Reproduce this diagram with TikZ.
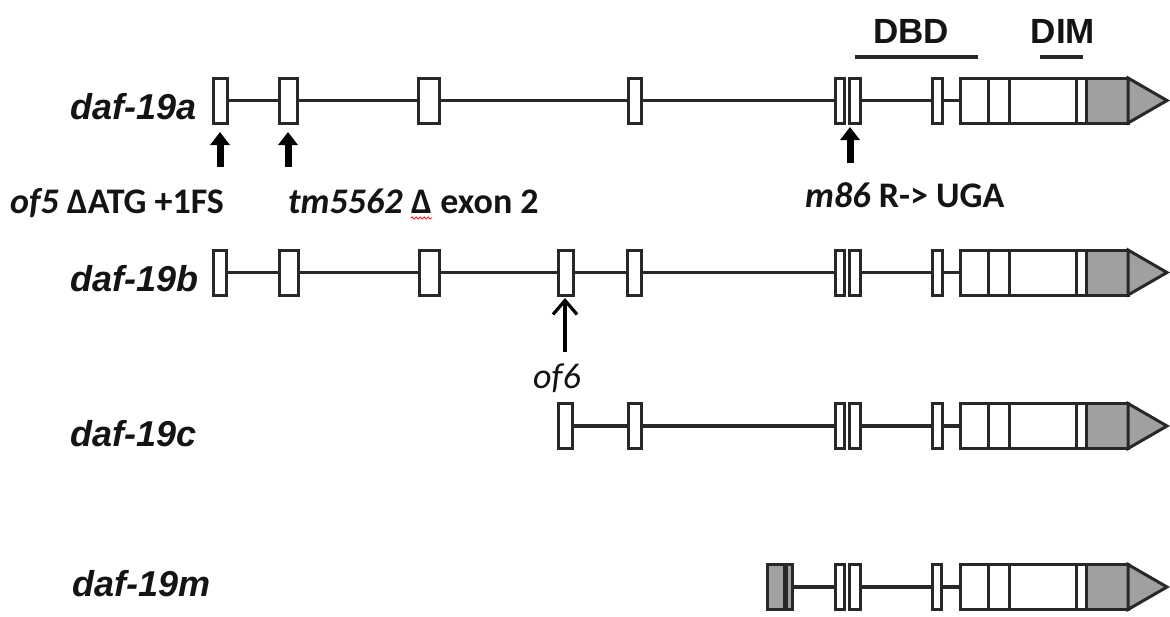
\documentclass[tikz,border=0pt]{standalone}
\usepackage{fontspec}
\usetikzlibrary{arrows.meta,decorations.pathmorphing}
\newfontfamily\arialf{Liberation Sans}
\newfontfamily\calib{Carlito}
\definecolor{linec}{RGB}{40,40,40}
\definecolor{utrgray}{RGB}{160,160,160}
\definecolor{inkc}{RGB}{20,20,20}

% exon box: [style]{name}{left x}{right x}{row y}
\newcommand{\ex}[5][exon]{%
  \pgfmathsetmacro{\exw}{#4-#3}\pgfmathsetmacro{\exc}{(#3+#4)/2}%
  \node[#1, minimum width=\exw pt] (#2) at (\exc,#5) {};}
% last coding block with the 3' UTR and the arrow tip: {prefix}{row y}
\newcommand{\cdsblock}[2]{%
  \ex{#1p1}{960}{988}{#2}
  \ex{#1p2}{988}{1009}{#2}
  \ex{#1p3}{1009}{1076}{#2}
  \ex{#1p4}{1076}{1086}{#2}
  \ex[utr]{#1p5}{1086}{1128}{#2}
  \filldraw[tipshape] (#1p5.north east) -- ++(39,22.5) -- (#1p5.south east) -- cycle;}

\begin{document}
\begin{tikzpicture}[x=1pt,y=-1pt,
  exon/.style={rectangle, draw=linec, line width=3pt, fill=white,
    inner sep=0pt, outer sep=0pt, minimum height=45pt},
  utr/.style={exon, fill=utrgray},
  tipshape/.style={draw=linec, fill=utrgray, line width=3pt, line join=miter},
  intron/.style={draw=linec, line width=3.2pt},
  genelab/.style={anchor=base west, inner sep=0pt, text=inkc,
    font=\arialf\bfseries\itshape\fontsize{36}{40}\selectfont},
  domlab/.style={anchor=base, inner sep=0pt, text=inkc,
    font=\arialf\bfseries\fontsize{35}{40}\selectfont},
  mutlab/.style={anchor=base west, inner sep=0pt, text=inkc,
    font=\calib\bfseries\fontsize{36}{40}\selectfont},
  bigarrow/.style={draw=black, line width=7pt, -{Triangle[width=19pt,length=13pt]}},
  thinarrow/.style={draw=black, line width=3.2pt, -{Straight Barb[width=24pt,length=14pt]}},
  domline/.style={draw=linec, line width=3.2pt}]

\useasboundingbox[fill=white] (0,0) rectangle (1170,616);

% ---- domain bars
\node[domlab] (dbd) at (911,43) {DBD};
\node[domlab] (dim) at (1063,43) {DIM};
\coordinate (dbdL) at (855,57);
\coordinate (dbdR) at (978,57);
\coordinate (dimL) at (1040,57);
\coordinate (dimR) at (1083,57);
\draw[domline] (dbdL) -- (dbdR);
\draw[domline] (dimL) -- (dimR);

% ---- daf-19a
\node[genelab] (la) at (70,119) {daf-19a};
\ex{a1}{213}{227}{100.5}
\ex{a2}{279}{297}{100.5}
\ex{a3}{418}{439}{100.5}
\ex{a4}{628}{641}{100.5}
\ex{a5}{835}{844.5}{100.5}
\ex{a5b}{849.5}{860}{100.5}
\ex{a6}{932}{942}{100.5}
\cdsblock{a}{100.5}
\draw[intron] (a1) -- (a2);
\draw[intron] (a2) -- (a3);
\draw[intron] (a3) -- (a4);
\draw[intron] (a4) -- (a5);
\draw[intron] (a5b) -- (a6);
\draw[intron] (a6) -- (ap1);

% mutations on daf-19a
\coordinate (ar1) at (220,167);
\coordinate (ar2) at (288,167);
\coordinate (ar3) at (850,163);
\draw[bigarrow, shorten >=9pt] (ar1) -- (ar1 |- a1.south);
\draw[bigarrow, shorten >=9pt] (ar2) -- (ar2 |- a2.south);
\draw[bigarrow, shorten >=4pt] (ar3) -- (ar3 |- a5b.south);

\node[mutlab] (of5) at (10,213) {\textit{of5} ΔATG +1FS};
\node[mutlab] (tm) at (288,213) {\textit{tm5562}};
\node[mutlab] (tmD) at ([xshift=8.1pt]tm.base east) {Δ};
\node[mutlab] (tmE) at ([xshift=8.1pt]tmD.base east) {exon 2};
\draw[red, line width=0.8pt, decorate,
  decoration={snake, amplitude=1.1pt, segment length=4pt}]
  ([yshift=-5pt]tmD.base west) -- ([yshift=-5pt]tmD.base east);
\node[mutlab] (m86) at (805,207) {\textit{m86} R-> UGA};

% ---- daf-19b
\node[genelab] (lb) at (70,291) {daf-19b};
\ex{b1}{213}{226}{272.5}
\ex{b2}{279}{298}{272.5}
\ex{b3}{419}{439}{272.5}
\ex{b4}{558}{573}{272.5}
\ex{b5}{627}{641}{272.5}
\ex{b6}{835}{844.5}{272.5}
\ex{b6b}{849.5}{860}{272.5}
\ex{b7}{932}{942}{272.5}
\cdsblock{b}{272.5}
\draw[intron] (b1) -- (b2);
\draw[intron] (b2) -- (b3);
\draw[intron] (b3) -- (b4);
\draw[intron] (b4) -- (b5);
\draw[intron] (b5) -- (b6);
\draw[intron] (b6b) -- (b7);
\draw[intron] (b7) -- (bp1);

\coordinate (ar4) at (565,352);
\draw[thinarrow, shorten >=3pt] (ar4) -- (ar4 |- b4.south);
\node[mutlab, font=\calib\itshape\fontsize{36}{40}\selectfont] (of6) at (533,388) {of6};

% ---- daf-19c
\node[genelab] (lc) at (70,446) {daf-19c};
\ex{c1}{558}{572}{426}
\ex{c2}{628}{641}{426}
\ex{c3}{835}{844.5}{426}
\ex{c3b}{849.5}{860}{426}
\ex{c4}{932}{942}{426}
\cdsblock{c}{426}
\draw[intron] (c1) -- (c2);
\draw[intron] (c2) -- (c3);
\draw[intron] (c3b) -- (c4);
\draw[intron] (c4) -- (cp1);

% ---- daf-19m
\node[genelab] (lm) at (72,596) {daf-19m};
\ex[utr]{m1}{767}{784}{587}
\ex[utr]{m1b}{786}{792}{587}
\ex{m2}{835}{844.5}{587}
\ex{m2b}{849.5}{860}{587}
\ex{m3}{932}{941}{587}
\cdsblock{m}{587}
\draw[intron] (m1b) -- (m2);
\draw[intron] (m2b) -- (m3);
\draw[intron] (m3) -- (mp1);
\end{tikzpicture}
\end{document}
